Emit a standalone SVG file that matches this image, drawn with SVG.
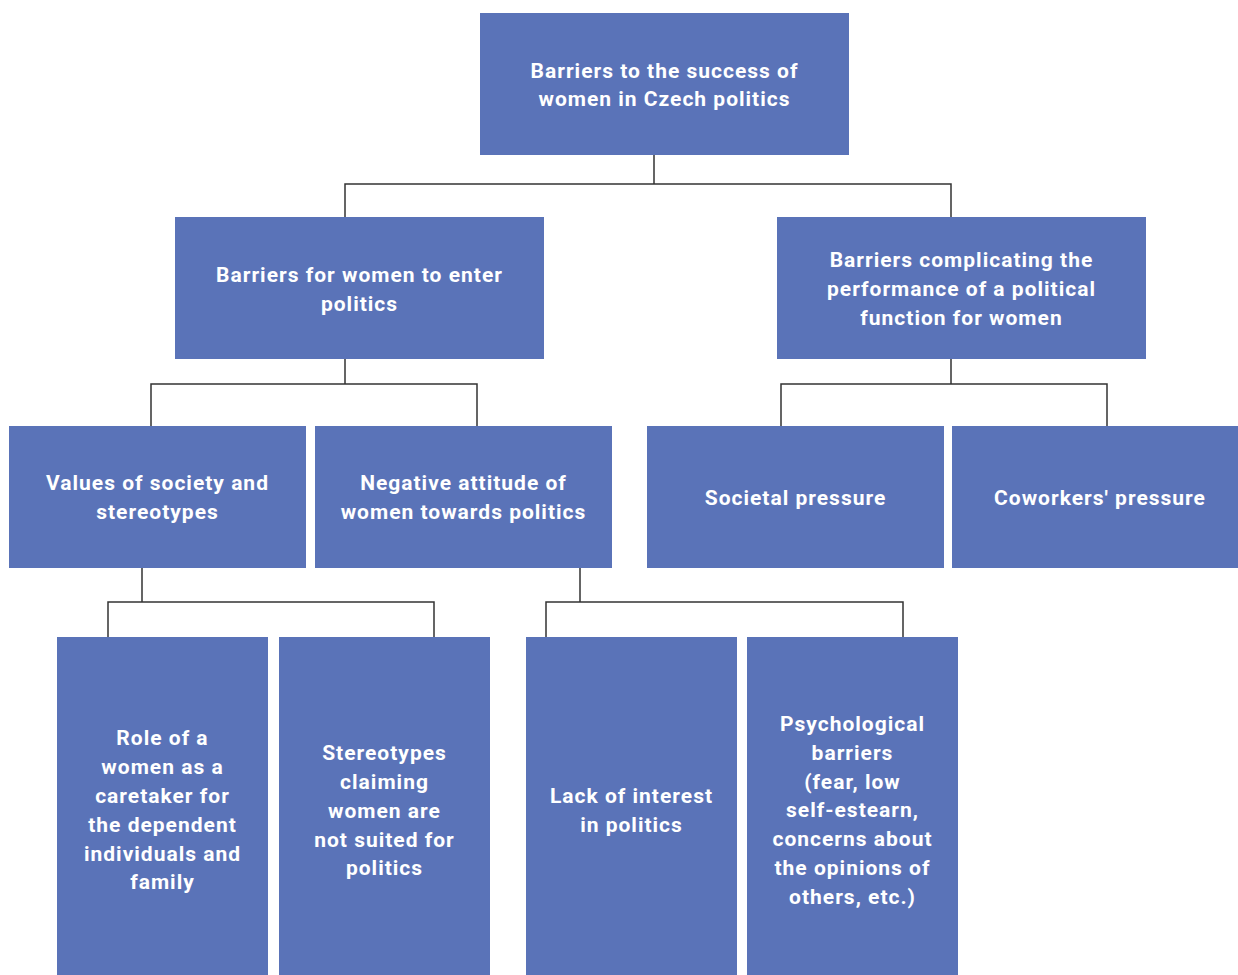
<svg xmlns="http://www.w3.org/2000/svg" width="1238" height="975" viewBox="0 0 1238 975">
<style>
.box{fill:#5A73B8}
.t{font-family:Roboto,"Liberation Sans",sans-serif;font-weight:700;font-size:21px;fill:#fff;text-anchor:middle;letter-spacing:1px}
.c{fill:none;stroke:#333;stroke-width:1.5}
</style>
<rect width="1238" height="975" fill="#fff"/>
<g id="connectors">
<path class="c" d="M654 155V184M345 217V184H951V217"/>
<path class="c" d="M345 359V384M151 426V384H477V426"/>
<path class="c" d="M951 359V384M781 426V384H1107V426"/>
<path class="c" d="M142 568V602M108 637V602H434V637"/>
<path class="c" d="M580 568V602M546 637V602H903V637"/>
</g>
<g id="root"><rect class="box" x="480" y="13" width="369" height="142"/>
<text class="t" x="664.5" y="78">Barriers to the success of</text>
<text class="t" x="664.5" y="106">women in Czech politics</text></g>
<g id="enter"><rect class="box" x="175" y="217" width="369" height="142"/>
<text class="t" x="359.5" y="282">Barriers for women to enter</text>
<text class="t" x="359.5" y="311">politics</text></g>
<g id="performance"><rect class="box" x="777" y="217" width="369" height="142"/>
<text class="t" x="961.5" y="267">Barriers complicating the</text>
<text class="t" x="961.5" y="296">performance of a political</text>
<text class="t" x="961.5" y="325">function for women</text></g>
<g id="values"><rect class="box" x="9" y="426" width="297" height="142"/>
<text class="t" x="157.5" y="490">Values of society and</text>
<text class="t" x="157.5" y="519">stereotypes</text></g>
<g id="negative"><rect class="box" x="315" y="426" width="297" height="142"/>
<text class="t" x="463.5" y="490">Negative attitude of</text>
<text class="t" x="463.5" y="519">women towards politics</text></g>
<g id="societal"><rect class="box" x="647" y="426" width="297" height="142"/>
<text class="t" x="795.5" y="505">Societal pressure</text></g>
<g id="coworkers"><rect class="box" x="952" y="426" width="286" height="142"/>
<text class="t" x="1100" y="505">Coworkers' pressure</text></g>
<g id="role"><rect class="box" x="57" y="637" width="211" height="338"/>
<text class="t" x="162.5" y="745">Role of a</text>
<text class="t" x="162.5" y="774">women as a</text>
<text class="t" x="162.5" y="803">caretaker for</text>
<text class="t" x="162.5" y="832">the dependent</text>
<text class="t" x="162.5" y="861">individuals and</text>
<text class="t" x="162.5" y="889">family</text></g>
<g id="stereotypes"><rect class="box" x="279" y="637" width="211" height="338"/>
<text class="t" x="384.5" y="760">Stereotypes</text>
<text class="t" x="384.5" y="789">claiming</text>
<text class="t" x="384.5" y="818">women are</text>
<text class="t" x="384.5" y="847">not suited for</text>
<text class="t" x="384.5" y="875">politics</text></g>
<g id="lack"><rect class="box" x="526" y="637" width="211" height="338"/>
<text class="t" x="631.5" y="803">Lack of interest</text>
<text class="t" x="631.5" y="832">in politics</text></g>
<g id="psych"><rect class="box" x="747" y="637" width="211" height="338"/>
<text class="t" x="852.5" y="731">Psychological</text>
<text class="t" x="852.5" y="760">barriers</text>
<text class="t" x="852.5" y="789">(fear, low</text>
<text class="t" x="852.5" y="817">self-estearn,</text>
<text class="t" x="852.5" y="846">concerns about</text>
<text class="t" x="852.5" y="875">the opinions of</text>
<text class="t" x="852.5" y="904">others, etc.)</text></g>
</svg>
